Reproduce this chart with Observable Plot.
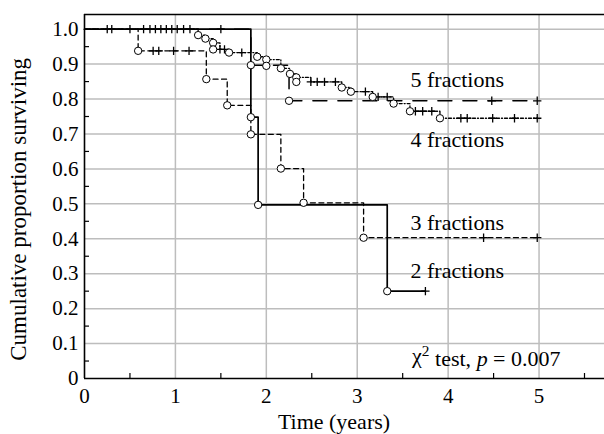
<!DOCTYPE html>
<html><head><meta charset="utf-8">
<script src="https://cdn.jsdelivr.net/npm/d3@7"></script>
<script src="https://cdn.jsdelivr.net/npm/@observablehq/plot@0.6"></script>
<style>html,body{margin:0;padding:0;background:#fff}#chart svg{display:block}</style>
</head><body><div id="chart"></div>
<script>
// ---- data ----
const xMajor = [0, 1, 2, 3, 4, 5];
const xMinor = [0.5, 1.5, 2.5, 3.5, 4.5, 5.5];
const yMajor = [0, 0.1, 0.2, 0.3, 0.4, 0.5, 0.6, 0.7, 0.8, 0.9, 1.0];
const yMinor = [0.05, 0.15, 0.25, 0.35, 0.45, 0.55, 0.65, 0.75, 0.85, 0.95];
const xDomain = [0, 5.72];
const yDomain = [0, 1.042];
const xTitle = "Time (years)";
const yTitle = "Cumulative proportion surviving";

// 2 fractions (solid)
const fr2EventT = [1.83, 1.91, 3.33];
const fr2EventS = [0.748, 0.497, 0.25];
const fr2CensorT = [3.75];
// 3 fractions (short dashes)
const fr3EventT = [0.59, 1.34, 1.57, 1.83, 2.16, 2.41, 3.07];
const fr3EventS = [0.938, 0.857, 0.782, 0.699, 0.601, 0.503, 0.403];
const fr3CensorT = [0.755, 0.817, 0.98, 1.15, 4.39, 4.98];
// 4 fractions (dash-dot)
const fr4EventT = [1.25, 1.33, 1.415, 1.415, 1.59, 1.90, 2.00, 2.00, 2.16, 2.26, 2.33, 2.33, 2.83, 2.93, 3.17, 3.40, 3.58, 3.91];
const fr4EventS = [0.983, 0.973, 0.961, 0.942, 0.933, 0.921, 0.913, 0.895, 0.888, 0.872, 0.862, 0.849, 0.833, 0.821, 0.806, 0.787, 0.765, 0.745];
const fr4CensorT = [0.25, 0.30, 0.50, 0.65, 0.72, 0.78, 0.84, 0.90, 0.96, 1.02, 1.09, 1.16, 1.49, 1.54, 1.73, 2.49, 2.56, 2.64, 2.76, 3.09, 3.23, 3.33, 3.64, 3.72, 3.82, 4.14, 4.21, 4.49, 4.73, 4.98];
// 5 fractions (long dashes)
const fr5EventT = [1.83, 2.25];
const fr5EventS = [0.897, 0.795];
const fr5CensorT = [1.50, 4.48, 4.98];

const seriesNames = ["2 fractions", "3 fractions", "4 fractions", "5 fractions"];
const labelT = [4.10, 4.10, 4.10, 4.10];
const labelS = [0.309, 0.444, 0.682, 0.854];
const noteText = "χ2 test, p = 0.007";
const noteT = 4.42, noteS = 0.064;

// ---- build step data ----
function km(name, eT, eS, cT) {
  const ev = eT.map((t, i) => ({name, t, s: eS[i], kind: "event"}));
  const level = t => { let s = 1; ev.forEach(e => { if (e.t <= t) s = e.s; }); return s; };
  const ce = cT.map(t => ({name, t, s: level(t), kind: "censor"}));
  const path = [{name, t: 0, s: 1}, ...[...ev, ...ce].sort((a, b) => a.t - b.t || (a.kind === "event" ? -1 : 1))];
  return {path, ev, ce};
}
const S = [
  km(seriesNames[0], fr2EventT, fr2EventS, fr2CensorT),
  km(seriesNames[1], fr3EventT, fr3EventS, fr3CensorT),
  km(seriesNames[2], fr4EventT, fr4EventS, fr4CensorT),
  km(seriesNames[3], fr5EventT, fr5EventS, fr5CensorT)
];
const styles = [
  {strokeWidth: 1.7},
  {strokeWidth: 1.3, strokeDasharray: "5,3.5"},
  {strokeWidth: 1.3, strokeDasharray: "3,2,1,2"},
  {strokeWidth: 1.5, strokeDasharray: "14,11"}
];
const grid = {stroke: "#bdbdbd", strokeOpacity: 1, strokeWidth: 1.5};
const labels = seriesNames.map((n, i) => ({n, t: labelT[i], s: labelS[i]}));

const chart = Plot.plot({
  width: 604, height: 434,
  marginLeft: 84, marginRight: 0, marginTop: 14, marginBottom: 56,
  x: {domain: xDomain, label: null},
  y: {domain: yDomain, label: null},
  style: {fontFamily: "'Liberation Serif', serif", fontSize: "21px", color: "black", background: "white", overflow: "visible"},
  marks: [
    Plot.gridX(xMajor.filter(d => d > 0), grid),
    Plot.gridY(yMajor.filter(d => d > 0), grid),
    Plot.axisX(xMajor, {tickSize: 0, tickPadding: 10, fontSize: 21, label: null}),
    Plot.axisX(xMinor, {tickSize: -5, tickFormat: () => "", label: null, strokeWidth: 1.2}),
    Plot.axisY(yMajor, {tickSize: 0, tickPadding: 6, fontSize: 21, tickFormat: d => d === 0 ? "0" : d.toFixed(1), label: null}),
    Plot.axisY(yMinor, {tickSize: -5, tickFormat: () => "", label: null, strokeWidth: 1.2}),
    Plot.ruleX([xDomain[0]], {stroke: "black", strokeWidth: 1.6}),
    Plot.ruleY([yDomain[0]], {stroke: "black", strokeWidth: 1.6}),
    Plot.ruleY([yDomain[1]], {stroke: "black", strokeWidth: 1.6}),
    ...S.map((d, i) => Plot.line(d.path, {x: "t", y: "s", curve: "step-after", stroke: "black", ...styles[i]})),
    ...S.map(d => Plot.dot(d.ce, {x: "t", y: "s", symbol: "plus", r: 2.8, stroke: "black", strokeWidth: 1.3})),
    ...S.map(d => Plot.dot(d.ev, {x: "t", y: "s", symbol: "circle", r: 3.7, fill: "white", stroke: "black", strokeWidth: 1})),
    Plot.text(labels, {x: "t", y: "s", text: "n", fontSize: 22, textAnchor: "middle", lineAnchor: "middle", fill: "black"}),
    Plot.text([noteText], {x: () => noteT, y: () => noteS, text: d => d, fontSize: 22, textAnchor: "middle", lineAnchor: "middle", fill: "black"})
  ]
});
document.getElementById("chart").appendChild(chart);
const svg = d3.select(chart);
// rich formatting for the test note
svg.selectAll("text").filter(function() { return this.textContent === noteText; }).each(function() {
  const t = d3.select(this); t.text("");
  t.append("tspan").text("χ");
  t.append("tspan").attr("dy", "-0.45em").attr("font-size", "0.7em").text("2");
  t.append("tspan").attr("dy", "0.45em").text(" test, ");
  t.append("tspan").attr("font-style", "italic").text("p");
  t.append("tspan").text(" = 0.007");
});
// axis titles
const sx = chart.scale("x"), sy = chart.scale("y");
svg.append("text").attr("x", (sx.apply(0) + sx.apply(5.5)) / 2).attr("y", 421).attr("dy", "0.35em")
  .attr("text-anchor", "middle").attr("font-size", 22).attr("fill", "black").text(xTitle);
svg.append("text").attr("transform", `translate(18,${(sy.apply(0) + sy.apply(1)) / 2 + 6}) rotate(-90)`).attr("dy", "0.35em")
  .attr("text-anchor", "middle").attr("font-size", 23).attr("fill", "black").text(yTitle);
</script>
</body></html>
